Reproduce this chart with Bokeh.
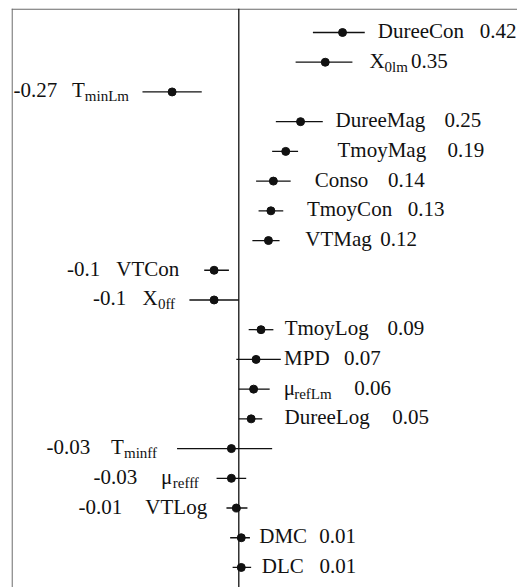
from bokeh.plotting import figure
from bokeh.models import Range1d, Span, ColumnDataSource
from bokeh.core.properties import value
from bokeh.embed import file_html
from bokeh.resources import INLINE

# ---------------- data ----------------
main_names = ["DureeCon", "X", "T", "DureeMag", "TmoyMag", "Conso", "TmoyCon",
              "VTMag", "VTCon", "X", "TmoyLog", "MPD", "μ", "DureeLog", "T",
              "μ", "VTLog", "DMC", "DLC"]
sub_names = ["", "0lm", "minLm", "", "", "", "", "", "", "0ff", "", "", "refLm",
             "", "minff", "refff", "", "", ""]
coef = [0.42, 0.35, -0.27, 0.25, 0.19, 0.14, 0.13, 0.12, -0.10, -0.10, 0.09,
        0.07, 0.06, 0.05, -0.03, -0.03, -0.01, 0.01, 0.01]
coef_text = ["0.42", "0.35", "-0.27", "0.25", "0.19", "0.14", "0.13", "0.12",
             "-0.1", "-0.1", "0.09", "0.07", "0.06", "0.05", "-0.03", "-0.03",
             "-0.01", "0.01", "0.01"]
ci_low = [0.30, 0.23, -0.39, 0.15, 0.135, 0.07, 0.08, 0.055, -0.14, -0.20, 0.04,
          -0.01, 0.0, 0.0, -0.25, -0.09, -0.05, -0.035, -0.025]
ci_high = [0.51, 0.46, -0.15, 0.34, 0.24, 0.21, 0.18, 0.165, -0.04, 0.0, 0.14,
           0.17, 0.125, 0.095, 0.135, 0.03, 0.035, 0.045, 0.05]
rows = list(range(1, len(coef) + 1))

# ---------------- label layout (pixels) ----------------
label_gap = [13, 17, 13.5, 12.7, 39.4, 24, 23.7, 25.7, 25, 14.3, 11.3, 3.3, 14,
             22.3, 20, 17.7, 19.3, 9.3, 10.7]
value_gap = [15.7, 3.2, 14.6, 19.2, 21.3, 19.7, 15.5, 8.5, 16, 16.3, 18.7, 14.5,
             22.7, 22.6, 20.6, 24.5, 23.2, 12.2, 15.6]

FS_MAIN = 21
FS_SUB = 15
W = {"D": .722, "u": .5, "r": .333, "e": .444, "C": .667, "o": .5, "n": .5,
     "X": .722, "l": .278, "m": .778, "T": .611, "i": .278, "L": .611,
     "M": .889, "a": .444, "g": .5, "y": .5, "s": .389, "V": .722, "f": .333,
     "P": .556, "μ": .5, ".": .25, "-": .333, " ": .25}
for d in "0123456789":
    W[d] = .5


def tw(s, fs):
    return sum(W.get(c, .5) for c in s) * fs


L = {"x": [], "y": [], "text": [], "xo": []}
R = {"x": [], "y": [], "text": [], "xo": []}
SL = {"x": [], "y": [], "text": [], "xo": []}
SR = {"x": [], "y": [], "text": [], "xo": []}


def add(d, x, y, t, xo):
    d["x"].append(x); d["y"].append(y); d["text"].append(t); d["xo"].append(xo)


for i, r in enumerate(rows):
    m, s, v = main_names[i], sub_names[i], coef_text[i]
    g, vg = label_gap[i], value_gap[i]
    wm, ws = tw(m, FS_MAIN), tw(s, FS_SUB)
    if coef[i] >= 0:
        x = ci_high[i]
        add(L, x, r, m, g)
        if s:
            add(SL, x, r, s, g + wm)
        add(L, x, r, v, g + wm + ws + vg)
    else:
        x = ci_low[i]
        if s:
            add(SR, x, r, s, -g)
        add(R, x, r, m, -g - ws)
        add(R, x, r, v, -g - ws - wm - vg)

# ---------------- figure ----------------
PX_PER_UNIT = 247.0
ZERO_PX = 238.3
LEFT_PX, TOP_PX = 11, 8
W_PX, H_PX = 517, 587
x0 = (LEFT_PX - ZERO_PX) / PX_PER_UNIT
x1 = (W_PX - ZERO_PX) / PX_PER_UNIT
ROW0_PX, ROW_STEP = 32.0, 29.72
y_top = 1 - (ROW0_PX - TOP_PX) / ROW_STEP
y_bot = 1 + (H_PX - ROW0_PX) / ROW_STEP

p = figure(width=W_PX, height=H_PX, output_backend="svg", toolbar_location=None,
           x_range=Range1d(x0, x1), y_range=Range1d(y_bot, y_top),
           x_axis_location=None, y_axis_location=None,
           min_border_left=LEFT_PX, min_border_top=TOP_PX,
           min_border_right=0, min_border_bottom=0)
p.outline_line_color = None
p.xgrid.visible = False
p.ygrid.visible = False
p.background_fill_color = "white"
p.border_fill_color = "white"

p.add_layout(Span(location=x0 + 0.6 / PX_PER_UNIT, dimension="height",
                  line_color="#8a8a8a", line_width=1.6))
p.add_layout(Span(location=y_top + 0.6 / ROW_STEP, dimension="width",
                  line_color="#6a6a6a", line_width=1.4))
p.add_layout(Span(location=0, dimension="height", line_color="#111111",
                  line_width=1.3))

src = ColumnDataSource(dict(y=rows, c=coef, lo=ci_low, hi=ci_high))
p.segment(x0="lo", y0="y", x1="hi", y1="y", source=src, line_color="#111111",
          line_width=1.3)
p.scatter(x="c", y="y", source=src, size=8, fill_color="#111111",
          line_color="#111111")

font = value("'Liberation Serif', 'Times New Roman', serif")
for d, align, fs, yo in [(L, "left", FS_MAIN, -1.5), (R, "right", FS_MAIN, -1.5),
                         (SL, "left", FS_SUB, 4.5), (SR, "right", FS_SUB, 4.5)]:
    if not d["x"]:
        continue
    p.text(x="x", y="y", text="text", x_offset="xo", y_offset=yo,
           source=ColumnDataSource(d), text_align=align,
           text_baseline="alphabetic", text_font=font,
           text_font_size=f"{fs}px", text_color="#111111")

open("out.html", "w").write(file_html(p, INLINE))
